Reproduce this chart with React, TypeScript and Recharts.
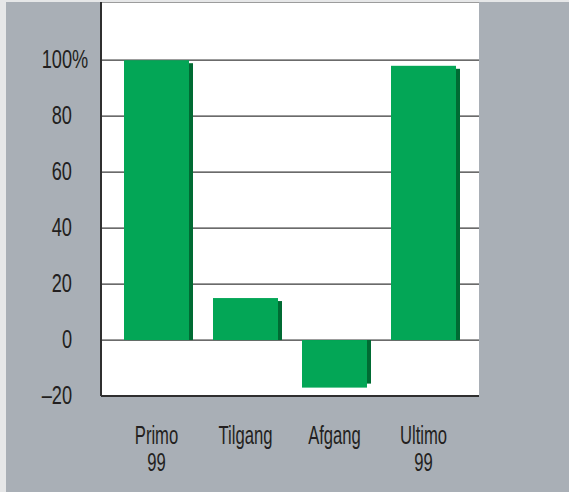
import React from "react";
import { BarChart, Bar, XAxis, YAxis, CartesianGrid } from "recharts";

const categories = ["Primo 99", "Tilgang", "Afgang", "Ultimo 99"];
const values = [100, 15, -17, 98];
const yTicks = [-20, 0, 20, 40, 60, 80, 100];

const data = categories.map((c, i) => ({ name: c, value: values[i] }));

const TEXT = "#231f20";
const FONT = "'Liberation Sans', Arial, sans-serif";
const GREEN = "#03a656";
const SHADOW = "#006b33";

const YTick = (props: any) => {
  const { x, y, payload } = props;
  const v = payload.value;
  const label = v < 0 ? "\u2013" + Math.abs(v) : String(v);
  return (
    <g transform={`translate(${x - 27},${y + 8}) scale(0.7,1)`}>
      <text x={0} y={0} textAnchor="end" fill={TEXT} fontSize={26} fontFamily={FONT}>
        {label}
      </text>
      {v === 100 && (
        <text x={0} y={0} textAnchor="start" fill={TEXT} fontSize={26} fontFamily={FONT}>
          %
        </text>
      )}
    </g>
  );
};

const XTick = (props: any) => {
  const { x, y, payload } = props;
  const parts = String(payload.value).split(" ");
  return (
    <g transform={`translate(${x},${y + 40}) scale(0.64,1)`}>
      {parts.map((p: string, i: number) => (
        <text key={i} x={0} y={i * 27} textAnchor="middle" fill={TEXT} fontSize={26} fontFamily={FONT}>
          {p}
        </text>
      ))}
    </g>
  );
};

const ShadowBar = (props: any) => {
  const { x, y, width, height, payload } = props;
  const neg = payload.value < 0;
  let top = y;
  let h = height;
  if (h < 0) {
    top = y + h;
    h = -h;
  }
  const shadow = neg ? (
    <rect x={x + 4} y={top} width={width} height={Math.max(h - 4, 0)} fill={SHADOW} />
  ) : (
    <rect x={x + 4} y={top + 3} width={width} height={Math.max(h - 3, 0)} fill={SHADOW} />
  );
  return (
    <g>
      {shadow}
      <rect x={x} y={top} width={width} height={h} fill={GREEN} />
    </g>
  );
};

export default function App() {
  return (
    <div style={{ position: "absolute", left: 0, top: 0, width: 569, height: 492, background: "#e6e7e8" }}>
      <div style={{ position: "absolute", left: 6, top: 2, width: 563, height: 490, background: "#a9afb6" }}>
        <BarChart
          width={563}
          height={490}
          data={data}
          margin={{ top: 0, right: 90, bottom: 0, left: 0 }}
          barSize={65}
        >
          <CartesianGrid
            vertical={false}
            horizontal={true}
            fill="#ffffff"
            stroke="#3a3a3a"
            strokeWidth={1.2}
            yAxisId="left"
          />
          <XAxis
            dataKey="name"
            height={96}
            padding={{ left: 11, right: 11 }}
            axisLine={{ stroke: "#2f2f2f", strokeWidth: 2 }}
            tickLine={false}
            tick={<XTick />}
            interval={0}
          />
          <YAxis
            yAxisId="left"
            width={95}
            domain={[-20, 120.8]}
            ticks={yTicks}
            allowDataOverflow
            axisLine={{ stroke: "#2f2f2f", strokeWidth: 2 }}
            tickLine={false}
            tickSize={0}
            tick={<YTick />}
          />
          <YAxis
            yAxisId="right"
            orientation="right"
            width={0}
            domain={[-20, 120.8]}
            axisLine={{ stroke: "#2f2f2f", strokeWidth: 2 }}
            tickLine={false}
            tick={false}
          />
          <Bar yAxisId="left" dataKey="value" isAnimationActive={false} shape={<ShadowBar />} />
        </BarChart>
      </div>
    </div>
  );
}
